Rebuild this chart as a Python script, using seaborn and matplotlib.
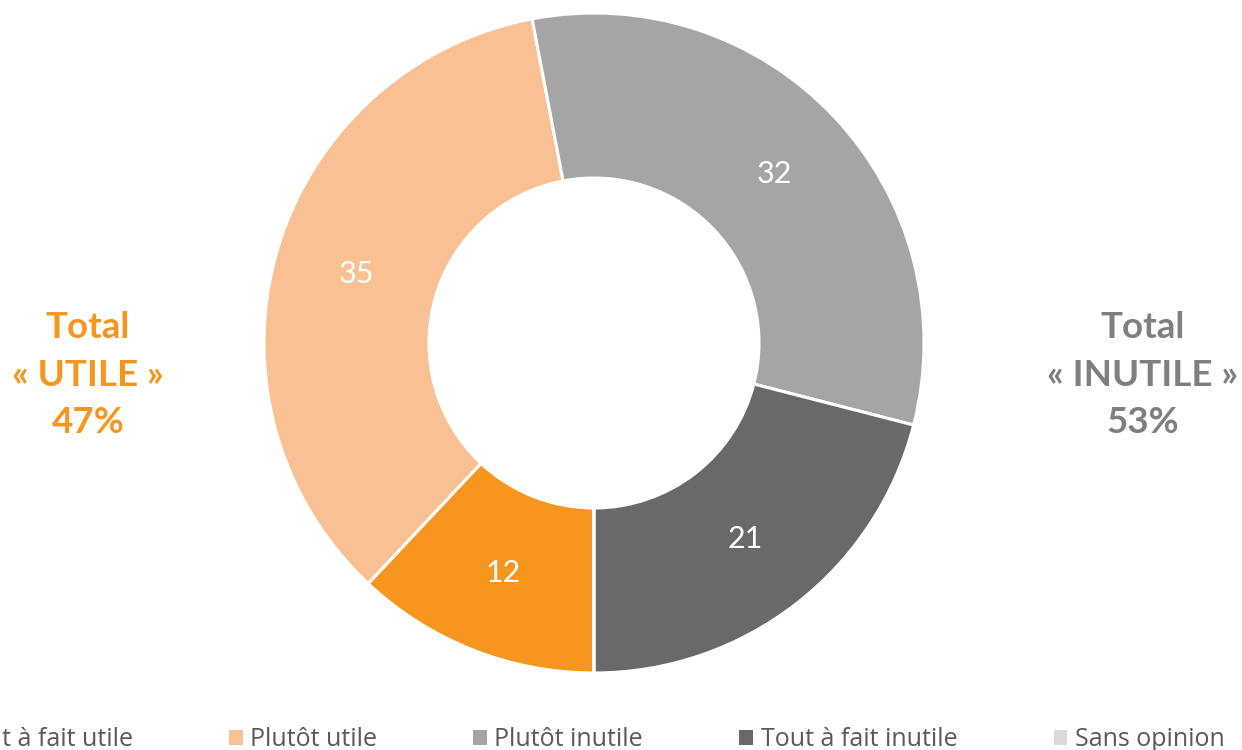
import numpy as np
import matplotlib
matplotlib.use("Agg")
import matplotlib.pyplot as plt
from matplotlib.patches import Patch
import seaborn as sns

# données
CATEGORIES = ["Tout à fait utile", "Plutôt utile", "Plutôt inutile",
              "Tout à fait inutile", "Sans opinion"]
VALUES = [12, 35, 32, 21, 0]
COLORS = ["#F7961E", "#F9C193", "#A5A5A5", "#696969", "#D9D9D9"]
TOTAL_UTILE = 47
TOTAL_INUTILE = 53

W, H = 1242, 750

sns.set_theme(style="white")
plt.rcParams["font.family"] = ["Lato", "DejaVu Sans"]

fig = plt.figure(figsize=(W / 100, H / 100), dpi=100)

# anneau centré sur (594, 343) px, rayon 330 px
cx, cy, r = 594, 343, 330
ax = fig.add_axes([(cx - r) / W, 1 - (cy + r) / H, 2 * r / W, 2 * r / H])

ax.pie(
    VALUES, colors=COLORS, startangle=-90, counterclock=False,
    radius=1.0, wedgeprops=dict(width=0.5, edgecolor="white", linewidth=2.2),
)
ax.set_xlim(-1, 1)
ax.set_ylim(-1, 1)
ax.set_aspect("equal")
ax.axis("off")

# étiquettes de valeurs au milieu de l'anneau (départ en bas, sens horaire)
total = sum(VALUES)
angle = -90.0
for v in VALUES:
    span = 360.0 * v / total
    mid = angle - span / 2
    angle -= span
    if v == 0:
        continue
    ax.text(0.75 * np.cos(np.radians(mid)), 0.75 * np.sin(np.radians(mid)),
            str(v), ha="center", va="center", color="white", fontsize=22)

# totaux
fig.text(88 / W, 1 - 375 / H, f"Total\n« UTILE »\n{TOTAL_UTILE}%",
         ha="center", va="center", color="#F7961E", fontsize=26.5,
         fontweight="bold", linespacing=1.55)
fig.text(1143 / W, 1 - 375 / H, f"Total\n« INUTILE »\n{TOTAL_INUTILE}%",
         ha="center", va="center", color="#7F7F7F", fontsize=26.5,
         fontweight="bold", linespacing=1.55)

# légende (première entrée coupée à gauche, comme l'original)
handles = [Patch(facecolor=c, edgecolor="none") for c in COLORS]
leg_kw = dict(loc="lower left", ncol=5, frameon=False,
              prop={"family": ["Open Sans", "DejaVu Sans"], "size": 18},
              labelcolor="#595959",
              handlelength=0.55, handleheight=0.55, handletextpad=0.3,
              columnspacing=3.85, borderpad=0.0, borderaxespad=0.0)
leg = fig.legend(handles, CATEGORIES, bbox_to_anchor=(0.0, 0.0), **leg_kw)
fig.canvas.draw()
x_text = leg.get_texts()[1].get_window_extent().x0
leg.remove()
leg = fig.legend(handles, CATEGORIES,
                 bbox_to_anchor=((250 - x_text) / W, -0.003), **leg_kw)

fig.savefig("out.png", dpi=100)
